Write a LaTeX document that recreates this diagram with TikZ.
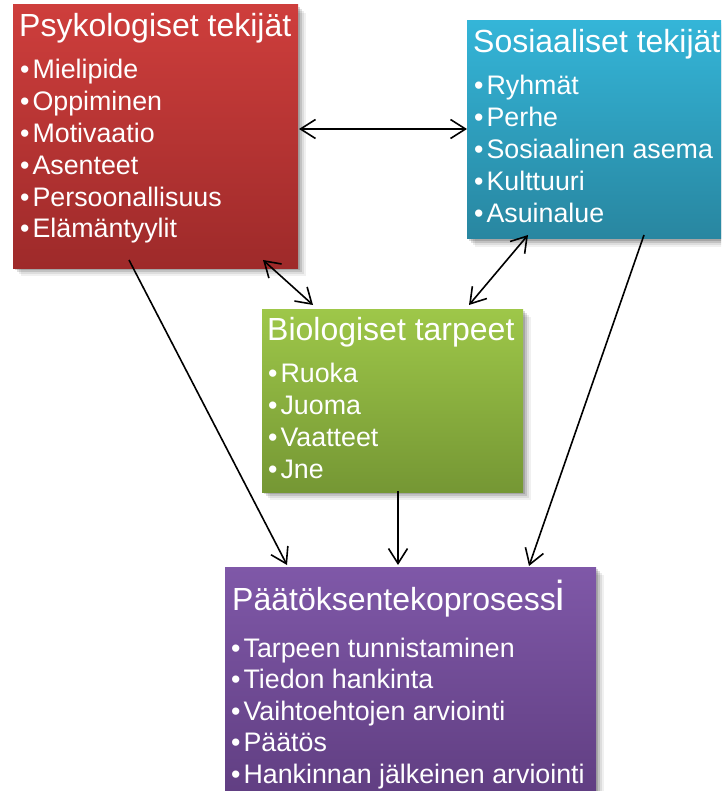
\documentclass[tikz,border=0pt]{standalone}
\usepackage{fontspec}
\setmainfont{Liberation Sans}
\usetikzlibrary{arrows.meta,shadows}
\definecolor{redT}{RGB}{206,62,60}
\definecolor{redB}{RGB}{158,42,42}
\definecolor{bluT}{RGB}{52,181,216}
\definecolor{bluB}{RGB}{40,134,160}
\definecolor{grnT}{RGB}{158,199,73}
\definecolor{grnB}{RGB}{117,151,52}
\definecolor{purT}{RGB}{127,88,168}
\definecolor{purB}{RGB}{95,61,128}
\begin{document}
\begin{tikzpicture}[x=1pt,y=-1pt,
  box/.style={rectangle, draw=none, inner sep=0pt, outer sep=0pt, anchor=north west,
    drop shadow={shadow xshift=8pt,shadow yshift=-8pt,opacity=.06,fill=black},
    drop shadow={shadow xshift=6pt,shadow yshift=-6pt,opacity=.08,fill=black},
    drop shadow={shadow xshift=4pt,shadow yshift=-4pt,opacity=.12,fill=black},
    drop shadow={shadow xshift=2pt,shadow yshift=-2pt,opacity=.15,fill=black}},
  ttl/.style={text=white, font=\fontsize{32}{38}\selectfont, anchor=base west, inner sep=0pt},
  itm/.style={text=white, font=\fontsize{26.8}{32}\selectfont, anchor=base west, inner sep=0pt},
  conn/.style={line width=1.6pt, draw=black, >={Straight Barb[length=15pt,width=19pt]}}]
\path[use as bounding box] (0,0) rectangle (721,791);
\clip (0,0) rectangle (721,791);
\fill[white] (0,0) rectangle (721,791);

% boxes
\node[box, minimum width=285pt, minimum height=263pt, top color=redT, bottom color=redB] (psy) at (13,5) {};
\node[box, minimum width=293pt, minimum height=218pt, top color=bluT, bottom color=bluB] (sos) at (467,21) {};
\node[box, minimum width=261pt, minimum height=183pt, top color=grnT, bottom color=grnB] (bio) at (262,309) {};
\node[box, minimum width=371pt, minimum height=240pt, top color=purT, bottom color=purB] (pro) at (225,567) {};

% red text
\node[ttl] (psyT) at (19,37) {Psykologiset tekijät};
\foreach \t [count=\i] in {Mielipide,Oppiminen,Motivaatio,Asenteet,Persoonallisuus,Elämäntyylit}
  \node[itm] (psy\i) at (20,{79+31.8*(\i-1)}) {•\hspace{3pt}\t};

% blue text
\node[ttl] (sosT) at (473,53) {Sosiaaliset tekijät};
\foreach \t [count=\i] in {Ryhmät,Perhe,Sosiaalinen asema,Kulttuuri,Asuinalue}
  \node[itm] (sos\i) at (474,{95+32*(\i-1)}) {•\hspace{3pt}\t};

% green text
\node[ttl] (bioT) at (267,340) {Biologiset tarpeet};
\foreach \t [count=\i] in {Ruoka,Juoma,Vaatteet,Jne}
  \node[itm] (bio\i) at (268,{382+32*(\i-1)}) {•\hspace{3pt}\t};

% purple text
\node[ttl] (proT) at (232,610) {Päätöksentekoprosess{\fontsize{42}{42}\selectfont i}};
\foreach \t [count=\i] in {Tarpeen tunnistaminen,Tiedon hankinta,Vaihtoehtojen arviointi,Päätös,Hankinnan jälkeinen arviointi}
  \node[itm] (pro\i) at (231,{657+31.6*(\i-1)}) {•\hspace{3pt}\t};

% connector end points
\coordinate (psyE) at (299,129);
\coordinate (sosW) at (467,129);
\coordinate (psyS1) at (263,260);
\coordinate (bioN1) at (313,305);
\coordinate (sosS1) at (528,235);
\coordinate (bioN2) at (469,305);
\coordinate (psyS2) at (129,260);
\coordinate (proN1) at (287,565);
\coordinate (bioS) at (398,491);
\coordinate (proN2) at (398,565);
\coordinate (sosS2) at (644,235);
\coordinate (proN3) at (529,566);

% connectors
\draw[conn,<->] (psyE) -- (sosW);
\draw[conn,<->] (psyS1) -- (bioN1);
\draw[conn,<->] (sosS1) -- (bioN2);
\draw[conn,->] (psyS2) -- (proN1);
\draw[conn,->] (bioS) -- (proN2);
\draw[conn,->] (sosS2) -- (proN3);
\end{tikzpicture}
\end{document}
